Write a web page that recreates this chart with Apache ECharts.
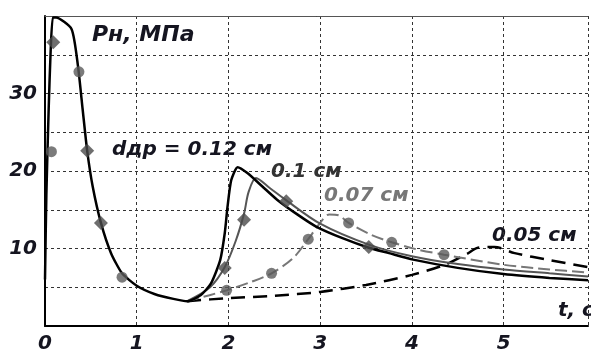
<!DOCTYPE html>
<html><head><meta charset="utf-8">
<script src="https://cdn.jsdelivr.net/npm/echarts@6/dist/echarts.min.js"></script>
<style>html,body{margin:0;padding:0;background:#fff}#c{width:591px;height:354px}</style>
</head><body><div id="c"></div>
<script>
// Data: [t (s), P (MPa)]
var xTicks = [0, 1, 2, 3, 4, 5];
var yTicks = [10, 20, 30];
var curve012 = [[0,6],[0.015,17],[0.04,28],[0.06,35],[0.085,39.8],[0.12,39.8],[0.29,38.3],[0.36,33.5],[0.41,28],[0.46,22.6],[0.52,18],[0.61,13.3],[0.72,9.4],[0.84,6.8],[1.0,5.2],[1.2,4.1],[1.4,3.5],[1.55,3.2],[1.7,4.0],[1.81,5.5],[1.91,8.5],[1.96,12],[1.99,15.4],[2.03,18.8],[2.1,20.5],[2.21,19.7],[2.37,18.0],[2.53,16.3],[2.75,14.4],[2.96,12.8],[3.25,11.3],[3.53,10.1],[3.75,9.4],[4.0,8.6],[4.5,7.5],[5.0,6.7],[5.5,6.2],[5.92,5.9]];
var curve010 = [[1.55,3.2],[1.8,5.0],[1.96,7.6],[2.08,11],[2.17,14.5],[2.22,17.3],[2.3,19.1],[2.45,17.8],[2.62,16.3],[3.0,13.2],[3.53,10.5],[4.0,9.0],[4.5,8.0],[5.0,7.3],[5.5,6.8],[5.92,6.4]];
var curve007 = [[1.55,3.2],[1.98,4.6],[2.25,5.7],[2.47,6.8],[2.7,8.7],[2.87,11.2],[2.98,13.0],[3.1,14.4],[3.2,14.3],[3.31,13.3],[3.55,11.8],[3.78,10.8],[4.05,9.9],[4.35,9.2],[5.0,7.9],[5.5,7.3],[5.92,6.9]];
var curve005 = [[1.55,3.2],[2.0,3.6],[2.5,3.9],[3.0,4.4],[3.5,5.3],[4.0,6.6],[4.36,7.9],[4.6,9.3],[4.72,10.1],[4.9,10.2],[5.12,9.4],[5.5,8.5],[5.92,7.6]];
var diamonds010 = [[0.09,36.6],[0.46,22.6],[0.61,13.3],[1.96,7.5],[2.17,13.7],[2.63,16.1],[3.53,10.2]];
var circles007 = [[0.07,22.5],[0.37,32.8],[0.84,6.3],[1.98,4.6],[2.47,6.8],[2.87,11.2],[3.31,13.3],[3.78,10.8],[4.35,9.2]];

var FONT = 'DejaVu Sans';
var TXT = '#151520';
var lab = {fontFamily: FONT, fontWeight: 'bold', fontStyle: 'italic', fontSize: 20, color: TXT};
function f(sz){ return 'italic bold ' + sz + 'px "' + FONT + '"'; }
var chart = echarts.init(document.getElementById('c'));
chart.setOption({
  animation: false,
  grid: {left: 45, right: -3, top: 16, bottom: 28, containLabel: false},
  xAxis: [{
    type: 'value', min: 0, max: 5.92, interval: 1,
    axisLine: {show: true, lineStyle: {color: '#000', width: 2}},
    axisTick: {show: false},
    axisLabel: Object.assign({margin: 8, formatter: function(v){ return xTicks.indexOf(v) >= 0 ? String(v) : ''; }}, lab),
    splitLine: {show: true, lineStyle: {color: '#333', type: [3, 3], width: 1}}
  }, {
    type: 'value', position: 'top', min: 0, max: 5.92,
    axisLine: {show: true, lineStyle: {color: '#555', width: 1}},
    axisTick: {show: false}, axisLabel: {show: false}, splitLine: {show: false}
  }],
  yAxis: {
    type: 'value', min: 0, max: 40, interval: 5,
    axisLine: {show: true, lineStyle: {color: '#000', width: 2}},
    axisTick: {show: false},
    axisLabel: Object.assign({margin: 8, formatter: function(v){ return yTicks.indexOf(v) >= 0 ? String(v) : ''; }}, lab),
    splitLine: {show: true, lineStyle: {color: '#333', type: [3, 3], width: 1}}
  },
  series: [
    {type: 'line', data: curve005, showSymbol: false, smooth: 0.3, lineStyle: {color: '#000', width: 2.5, type: [14, 8]}, z: 3},
    {type: 'line', data: curve007, showSymbol: false, smooth: 0.3, lineStyle: {color: '#777', width: 2, type: [12, 5]}, z: 3},
    {type: 'line', data: curve010, showSymbol: false, smooth: 0.3, lineStyle: {color: '#555', width: 2}, z: 3},
    {type: 'line', data: curve012, showSymbol: false, smooth: 0.2, lineStyle: {color: '#000', width: 2.5}, z: 4},
    {type: 'scatter', data: diamonds010, symbol: 'diamond', symbolSize: 14, itemStyle: {color: '#4a4a4a'}, z: 5},
    {type: 'scatter', data: circles007, symbol: 'circle', symbolSize: 11, itemStyle: {color: '#5a5a5a'}, z: 5}
  ],
  graphic: [
    {type: 'text', x: 92, y: 35, style: {text: 'Рн, МПа', font: f(22), fill: TXT, verticalAlign: 'middle'}},
    {type: 'text', x: 112, y: 150, style: {text: 'dдр = 0.12 см', font: f(20), fill: TXT, verticalAlign: 'middle'}},
    {type: 'text', x: 271, y: 172, style: {text: '0.1 см', font: f(20), fill: '#333', verticalAlign: 'middle'}},
    {type: 'text', x: 324, y: 196, style: {text: '0.07 см', font: f(20), fill: '#777', verticalAlign: 'middle'}},
    {type: 'text', x: 492, y: 236, style: {text: '0.05 см', font: f(20), fill: TXT, verticalAlign: 'middle'}},
    {type: 'text', x: 558, y: 311, style: {text: 't, с', font: f(20), fill: TXT, verticalAlign: 'middle'}}
  ]
});
</script></body></html>
